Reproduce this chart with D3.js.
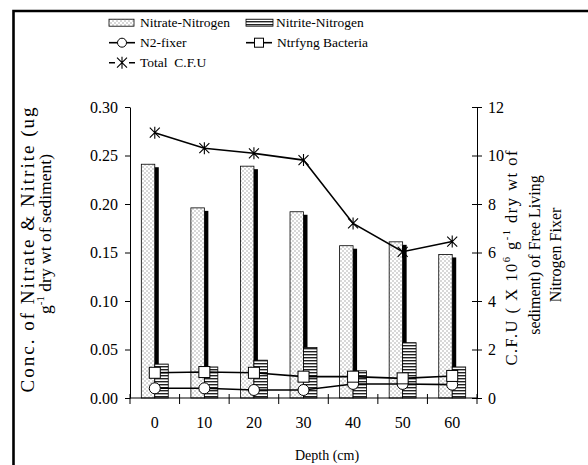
<!DOCTYPE html>
<html>
<head>
<meta charset="utf-8">
<script src="https://cdn.jsdelivr.net/npm/d3@7"></script>
<style>
  body { margin: 0; background: #fff; }
  svg { display: block; }
  svg text { font-family: "Liberation Serif", "Times New Roman", serif; fill: #000; }
</style>
</head>
<body>
<svg id="chart"></svg>
<script>
// values
const DEPTHS = ["0", "10", "20", "30", "40", "50", "60"];
const NITRATE = [0.241, 0.196, 0.239, 0.192, 0.157, 0.161, 0.148];
const NITRITE = [0.035, 0.032, 0.039, 0.052, 0.028, 0.057, 0.032];
const N2_FIXER = [0.40, 0.40, 0.33, 0.33, 0.58, 0.58, 0.55];
const NTRFYNG = [1.04, 1.07, 1.04, 0.88, 0.88, 0.81, 0.91];
const TOTAL_CFU = [10.94, 10.30, 10.09, 9.81, 7.20, 6.03, 6.45];
const LEFT_TICKS = [0, 0.05, 0.10, 0.15, 0.20, 0.25, 0.30];
const RIGHT_TICKS = [0, 2, 4, 6, 8, 10, 12];

const WIDTH = 588;
const HEIGHT = 465;
const PLOT = { left: 130, right: 477, top: 107, bottom: 398 };
const SERIF = "Liberation Serif, Times New Roman, serif";

window.onload = function () {
    let svg = d3.select("#chart")
        .attr("width", WIDTH)
        .attr("height", HEIGHT)
        .attr("font-family", SERIF);

    setupPatterns(svg);
    drawFrame(svg);

    let x = d3.scaleBand().domain(DEPTHS).range([PLOT.left, PLOT.right]);
    let xSub = d3.scaleBand().domain(["nitrate", "nitrite"])
        .range([0, x.bandwidth()]).paddingOuter(0.84);
    let yL = d3.scaleLinear().domain([0, 0.3]).range([PLOT.bottom, PLOT.top]);
    let yR = d3.scaleLinear().domain([0, 12]).range([PLOT.bottom, PLOT.top]);

    drawBars(svg, x, xSub, yL);
    drawAxes(svg, x, yL, yR);

    let cx = function (d, i) { return x(DEPTHS[i]) + x.bandwidth() / 2; };
    drawSeries(svg, N2_FIXER, cx, yR, "circle");
    drawSeries(svg, NTRFYNG, cx, yR, "square");
    drawSeries(svg, TOTAL_CFU, cx, yR, "star");

    drawTitles(svg);
    drawLegend(svg);
};

function setupPatterns(svg) {
    let defs = svg.append("defs");
    let dots = defs.append("pattern")
        .attr("id", "dots")
        .attr("patternUnits", "userSpaceOnUse")
        .attr("width", 4).attr("height", 4);
    dots.append("rect").attr("width", 4).attr("height", 4).attr("fill", "#fff");
    dots.append("rect").attr("x", 0.5).attr("y", 0.5).attr("width", 1).attr("height", 1).attr("fill", "#666");
    dots.append("rect").attr("x", 2.5).attr("y", 2.5).attr("width", 1).attr("height", 1).attr("fill", "#666");

    let stripes = defs.append("pattern")
        .attr("id", "stripes")
        .attr("patternUnits", "userSpaceOnUse")
        .attr("width", 4).attr("height", 3);
    stripes.append("rect").attr("width", 4).attr("height", 3).attr("fill", "#fff");
    stripes.append("rect").attr("width", 4).attr("height", 1.4).attr("fill", "#222");

    defs.append("clipPath").attr("id", "leftTitleClip")
        .append("rect").attr("x", 0).attr("y", 96).attr("width", 80).attr("height", 330);
}

function drawFrame(svg) {
    svg.append("path")
        .attr("d", "M13.5,465V11H588")
        .attr("fill", "none")
        .attr("stroke", "#000")
        .attr("stroke-width", 2.6);
}

function drawBars(svg, x, xSub, yL) {
    let w = xSub.bandwidth();
    let g = svg.append("g");

    // dark drop shadow behind the nitrate bars
    g.selectAll("rect.shadow")
        .data(NITRATE)
        .enter()
        .append("rect")
        .attr("class", "shadow")
        .attr("x", function (d, i) { return x(DEPTHS[i]) + xSub("nitrate") + 4; })
        .attr("y", function (d) { return yL(d) + 3; })
        .attr("width", w)
        .attr("height", function (d) { return yL(0) - yL(d) - 3; })
        .attr("fill", "#000");

    g.selectAll("rect.nitrate")
        .data(NITRATE)
        .enter()
        .append("rect")
        .attr("class", "nitrate")
        .attr("x", function (d, i) { return x(DEPTHS[i]) + xSub("nitrate"); })
        .attr("y", function (d) { return yL(d); })
        .attr("width", w)
        .attr("height", function (d) { return yL(0) - yL(d); })
        .attr("fill", "url(#dots)")
        .attr("stroke", "#000")
        .attr("stroke-width", 0.8);

    g.selectAll("rect.nitrite")
        .data(NITRITE)
        .enter()
        .append("rect")
        .attr("class", "nitrite")
        .attr("x", function (d, i) { return x(DEPTHS[i]) + xSub("nitrite"); })
        .attr("y", function (d) { return yL(d); })
        .attr("width", w)
        .attr("height", function (d) { return yL(0) - yL(d); })
        .attr("fill", "url(#stripes)")
        .attr("stroke", "#000")
        .attr("stroke-width", 0.8);
}

function drawAxes(svg, x, yL, yR) {
    let left = svg.append("g")
        .attr("transform", "translate(" + PLOT.left + ",0)")
        .call(d3.axisLeft(yL).tickValues(LEFT_TICKS).tickFormat(d3.format(".2f"))
            .tickSize(5).tickSizeOuter(0).tickPadding(7));

    let right = svg.append("g")
        .attr("transform", "translate(" + PLOT.right + ",0)")
        .call(d3.axisRight(yR).tickValues(RIGHT_TICKS)
            .tickSize(5).tickSizeOuter(0).tickPadding(6));
    right.selectAll(".tick line").attr("x1", -5);

    let bottom = svg.append("g")
        .attr("transform", "translate(0," + PLOT.bottom + ")")
        .call(d3.axisBottom(x).tickSize(0).tickPadding(19));
    bottom.select(".domain").remove();

    // tick marks sit on the category boundaries
    let bounds = DEPTHS.map(function (d) { return x(d); }).concat([PLOT.right]);
    svg.append("g").selectAll("line")
        .data(bounds)
        .enter()
        .append("line")
        .attr("x1", function (d) { return d; })
        .attr("x2", function (d) { return d; })
        .attr("y1", PLOT.bottom - 4)
        .attr("y2", PLOT.bottom + 6)
        .attr("stroke", "#000");
    svg.append("line")
        .attr("x1", PLOT.left).attr("x2", PLOT.right)
        .attr("y1", PLOT.bottom).attr("y2", PLOT.bottom)
        .attr("stroke", "#000");

    [left, right, bottom].forEach(function (a) {
        a.attr("font-family", SERIF).attr("font-size", 16);
        a.selectAll("text").attr("font-family", SERIF);
        a.selectAll("line, path").attr("stroke", "#000");
    });
}

function marker(sel, kind) {
    if (kind === "circle") {
        sel.append("circle").attr("r", 5.5)
            .attr("fill", "#fff").attr("stroke", "#000").attr("stroke-width", 1);
    } else if (kind === "square") {
        sel.append("rect").attr("x", -5.5).attr("y", -5.5).attr("width", 11).attr("height", 11)
            .attr("fill", "#fff").attr("stroke", "#000").attr("stroke-width", 1);
    } else {
        sel.append("path").attr("d", "M-5,-5L5,5M-5,5L5,-5M0,-6V6")
            .attr("fill", "none").attr("stroke", "#000").attr("stroke-width", 1.1);
    }
}

function drawSeries(svg, values, cx, yR, kind) {
    let line = d3.line()
        .x(function (d, i) { return cx(d, i); })
        .y(function (d) { return yR(d); });

    svg.append("path")
        .datum(values)
        .attr("d", line)
        .attr("fill", "none")
        .attr("stroke", "#000")
        .attr("stroke-width", 1.6);

    svg.append("g").selectAll("g")
        .data(values)
        .enter()
        .append("g")
        .attr("transform", function (d, i) { return "translate(" + cx(d, i) + "," + yR(d) + ")"; })
        .each(function () { marker(d3.select(this), kind); });
}

// rotated title line, read from bottom to top, centred on yMid
function vText(svg, x, yMid, size, len) {
    let t = svg.append("text")
        .attr("transform", "translate(" + x + "," + yMid + ") rotate(-90)")
        .attr("text-anchor", "middle")
        .attr("font-size", size);
    if (len) {
        t.attr("textLength", len).attr("lengthAdjust", "spacing");
    }
    return t;
}

function drawTitles(svg) {
    // left title; the first line runs long and is cut at the top in the original
    let lt = svg.append("g").attr("clip-path", "url(#leftTitleClip)");
    vText(lt, 34, 250, 19, 285).text("Conc. of Nitrate & Nitrite (ug");

    let l2 = vText(svg, 51, 234, 17.5, 160);
    l2.append("tspan").text("g");
    l2.append("tspan").attr("dy", -7).attr("font-size", 11).text("-1");
    l2.append("tspan").attr("dy", 7).text(" dry wt of sediment)");

    let r1 = vText(svg, 517, 258, 16.5, 215);
    r1.append("tspan").text("C.F.U ( X 10");
    r1.append("tspan").attr("dy", -7).attr("font-size", 10.5).text("6");
    r1.append("tspan").attr("dy", 7).text(" g");
    r1.append("tspan").attr("dy", -7).attr("font-size", 10.5).text("-1");
    r1.append("tspan").attr("dy", 7).text(" dry wt of");

    vText(svg, 540, 255, 16).text("sediment) of Free Living");
    vText(svg, 561, 255, 16).text("Nitrogen Fixer");

    svg.append("text")
        .attr("x", 327).attr("y", 460)
        .attr("text-anchor", "middle")
        .attr("font-size", 14)
        .text("Depth (cm)");
}

function drawLegend(svg) {
    let g = svg.append("g").attr("font-size", 13.5);
    let rows = [22.7, 42.7, 62.7];

    g.append("rect").attr("x", 109).attr("y", rows[0] - 3.5).attr("width", 25).attr("height", 7)
        .attr("fill", "url(#dots)").attr("stroke", "#000").attr("stroke-width", 0.8);
    g.append("text").attr("x", 140).attr("y", rows[0] + 4.5).text("Nitrate-Nitrogen");

    g.append("rect").attr("x", 246).attr("y", rows[0] - 3.5).attr("width", 27).attr("height", 7)
        .attr("fill", "url(#stripes)").attr("stroke", "#000").attr("stroke-width", 0.8);
    g.append("text").attr("x", 276).attr("y", rows[0] + 4.5).text("Nitrite-Nitrogen");

    let items = [
        { x: 109, y: rows[1], kind: "circle", label: "N2-fixer" },
        { x: 246, y: rows[1], kind: "square", label: "Ntrfyng Bacteria" },
        { x: 109, y: rows[2], kind: "star", label: "Total  C.F.U" }
    ];
    items.forEach(function (it) {
        let w = 26;
        if (it.kind === "star") {
            g.append("path").attr("d", "M" + it.x + "," + it.y + "h6M" + (it.x + w - 6) + "," + it.y + "h6")
                .attr("stroke", "#000").attr("stroke-width", 1.6);
        } else {
            g.append("line").attr("x1", it.x).attr("x2", it.x + w)
                .attr("y1", it.y).attr("y2", it.y)
                .attr("stroke", "#000").attr("stroke-width", 1.6);
        }
        let m = g.append("g").attr("transform", "translate(" + (it.x + w / 2) + "," + it.y + ")");
        marker(m, it.kind);
        m.selectAll("circle").attr("r", 4.5);
        m.selectAll("rect").attr("x", -4.5).attr("y", -4.5).attr("width", 9).attr("height", 9);
        g.append("text").attr("x", it.x + w + 5).attr("y", it.y + 4.5)
            .style("white-space", "pre")
            .text(it.label);
    });
}
</script>
</body>
</html>
